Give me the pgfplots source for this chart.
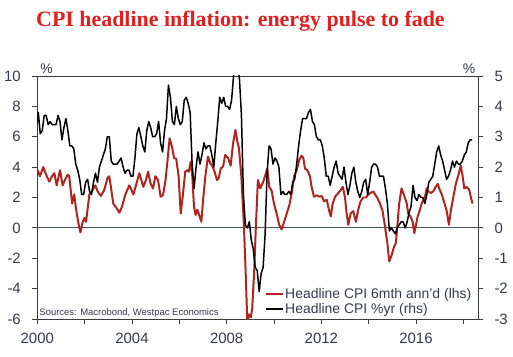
\documentclass[border=0pt]{standalone}
\usepackage{pgfplots}
\pgfplotsset{compat=1.18}
\usepackage{pgfplotstable}
\usepackage{fontspec}
\setmainfont{Liberation Sans}
\newfontfamily\titlefont{Liberation Serif}
\definecolor{cpired}{RGB}{176,36,30}
\definecolor{titlered}{RGB}{226,30,30}
\definecolor{axgray}{RGB}{60,60,60}
\definecolor{lblcol}{RGB}{52,58,78}
\definecolor{zerocol}{RGB}{70,84,96}

\pgfplotstableread{
x y
2000.02 3.8
2000.11 3.4
2000.25 4.0
2000.40 3.4
2000.51 3.05
2000.62 3.4
2000.72 3.6
2000.82 2.8
2000.96 3.8
2001.07 2.8
2001.18 3.2
2001.28 3.5
2001.35 3.4
2001.47 1.6
2001.56 2.2
2001.64 1.2
2001.75 0.2
2001.82 -0.3
2001.92 0.4
2001.99 0.65
2002.06 0.4
2002.20 2.2
2002.34 2.5
2002.45 2.8
2002.55 2.4
2002.69 2.1
2002.83 2.5
2002.97 3.3
2003.04 3.4
2003.11 2.7
2003.21 1.6
2003.35 1.3
2003.47 1.0
2003.58 1.4
2003.72 2.2
2003.89 2.8
2004.06 2.2
2004.17 2.8
2004.31 3.6
2004.48 2.7
2004.59 3.15
2004.68 3.7
2004.79 2.9
2004.89 2.6
2004.99 3.4
2005.10 3.15
2005.21 2.05
2005.31 2.15
2005.41 3.05
2005.49 4.25
2005.59 5.9
2005.69 5.35
2005.78 4.6
2005.87 4.55
2005.97 3.4
2006.06 0.95
2006.15 2.15
2006.25 3.7
2006.34 3.8
2006.40 3.7
2006.48 4.35
2006.55 3.4
2006.62 1.4
2006.69 0.85
2006.76 1.2
2006.86 0.75
2006.93 0.4
2007.00 1.75
2007.10 3.4
2007.21 4.7
2007.31 4.25
2007.39 4.1
2007.49 3.7
2007.59 3.15
2007.66 3.25
2007.75 3.9
2007.85 4.05
2007.94 4.8
2008.06 4.6
2008.17 4.1
2008.27 5.55
2008.37 6.45
2008.45 5.7
2008.52 5.25
2008.62 3.4
2008.72 0.5
2008.80 -2.75
2008.87 -6.1
2008.94 -5.7
2009.02 -5.9
2009.08 -5.3
2009.16 -3.0
2009.23 -0.1
2009.32 3.15
2009.42 2.6
2009.55 3.05
2009.72 3.9
2009.80 2.7
2009.90 2.45
2010.00 1.6
2010.11 0.95
2010.22 0.2
2010.32 -0.1
2010.42 0.35
2010.54 0.95
2010.65 1.5
2010.75 2.3
2010.85 3.4
2010.96 3.8
2011.07 4.5
2011.17 4.75
2011.24 4.6
2011.31 3.9
2011.41 3.8
2011.52 3.4
2011.59 2.7
2011.69 2.05
2011.80 2.15
2011.92 2.05
2012.02 2.1
2012.11 1.75
2012.23 1.85
2012.32 1.2
2012.40 0.75
2012.48 1.6
2012.58 2.05
2012.72 2.3
2012.82 2.5
2012.91 2.7
2013.00 2.0
2013.07 0.95
2013.14 0.2
2013.24 0.95
2013.35 1.1
2013.46 0.4
2013.56 1.2
2013.66 1.75
2013.77 2.0
2013.89 2.0
2013.98 2.2
2014.08 2.3
2014.20 2.4
2014.27 2.2
2014.36 2.0
2014.48 1.6
2014.59 1.1
2014.69 0.1
2014.79 -1.0
2014.87 -2.2
2014.97 -1.8
2015.07 -1.25
2015.15 -1.0
2015.21 0.1
2015.29 1.6
2015.39 2.6
2015.46 2.3
2015.53 2.0
2015.61 1.6
2015.67 0.95
2015.77 0.75
2015.86 0.4
2015.93 -0.35
2016.00 0.2
2016.07 0.75
2016.17 1.2
2016.24 1.6
2016.31 1.85
2016.38 2.05
2016.45 2.6
2016.52 2.4
2016.62 2.3
2016.73 2.4
2016.83 2.7
2016.92 2.9
2016.98 2.6
2017.09 2.2
2017.18 1.75
2017.30 1.1
2017.39 0.2
2017.48 1.2
2017.58 2.05
2017.69 2.95
2017.78 3.4
2017.89 4.1
2017.97 3.4
2018.04 2.6
2018.14 2.7
2018.25 2.5
2018.32 2.0
2018.39 1.6
}\sixmth

\pgfplotstableread{
yr m v
2000 1 2.7
2000 2 3.2
2000 3 3.8
2000 4 3.1
2000 5 3.2
2000 6 3.7
2000 7 3.7
2000 8 3.4
2000 9 3.5
2000 10 3.4
2000 11 3.4
2000 12 3.4
2001 1 3.7
2001 2 3.5
2001 3 2.9
2001 4 3.3
2001 5 3.6
2001 6 3.2
2001 7 2.7
2001 8 2.7
2001 9 2.6
2001 10 2.1
2001 11 1.9
2001 12 1.6
2002 1 1.1
2002 2 1.1
2002 3 1.5
2002 4 1.6
2002 5 1.2
2002 6 1.1
2002 7 1.5
2002 8 1.8
2002 9 1.5
2002 10 2.0
2002 11 2.2
2002 12 2.4
2003 1 2.6
2003 2 3.0
2003 3 3.0
2003 4 2.2
2003 5 2.1
2003 6 2.1
2003 7 2.1
2003 8 2.2
2003 9 2.3
2003 10 2.0
2003 11 1.8
2003 12 1.9
2004 1 1.9
2004 2 1.7
2004 3 1.7
2004 4 2.3
2004 5 3.1
2004 6 3.3
2004 7 3.0
2004 8 2.7
2004 9 2.5
2004 10 3.2
2004 11 3.5
2004 12 3.3
2005 1 3.0
2005 2 3.0
2005 3 3.1
2005 4 3.5
2005 5 2.8
2005 6 2.5
2005 7 3.2
2005 8 3.6
2005 9 4.7
2005 10 4.3
2005 11 3.5
2005 12 3.4
2006 1 4.0
2006 2 3.6
2006 3 3.4
2006 4 3.5
2006 5 4.2
2006 6 4.3
2006 7 4.1
2006 8 3.8
2006 9 2.1
2006 10 1.3
2006 11 2.0
2006 12 2.5
2007 1 2.1
2007 2 2.4
2007 3 2.8
2007 4 2.6
2007 5 2.7
2007 6 2.7
2007 7 2.4
2007 8 2.0
2007 9 2.8
2007 10 3.5
2007 11 4.3
2007 12 4.1
2008 1 4.3
2008 2 4.0
2008 3 4.0
2008 4 3.9
2008 5 4.2
2008 6 5.0
2008 7 5.6
2008 8 5.4
2008 9 4.9
2008 10 3.7
2008 11 1.1
2008 12 0.1
2009 1 0.0
2009 2 0.2
2009 3 -0.4
2009 4 -0.7
2009 5 -1.3
2009 6 -1.4
2009 7 -2.1
2009 8 -1.5
2009 9 -1.3
2009 10 -0.2
2009 11 1.8
2009 12 2.7
2010 1 2.6
2010 2 2.1
2010 3 2.3
2010 4 2.2
2010 5 2.0
2010 6 1.1
2010 7 1.2
2010 8 1.1
2010 9 1.1
2010 10 1.2
2010 11 1.1
2010 12 1.5
2011 1 1.6
2011 2 2.1
2011 3 2.7
2011 4 3.2
2011 5 3.6
2011 6 3.6
2011 7 3.6
2011 8 3.8
2011 9 3.9
2011 10 3.5
2011 11 3.4
2011 12 3.0
2012 1 2.9
2012 2 2.9
2012 3 2.7
2012 4 2.3
2012 5 1.7
2012 6 1.7
2012 7 1.4
2012 8 1.7
2012 9 2.0
2012 10 2.2
2012 11 1.8
2012 12 1.7
2013 1 1.6
2013 2 2.0
2013 3 1.5
2013 4 1.1
2013 5 1.4
2013 6 1.8
2013 7 2.0
2013 8 1.5
2013 9 1.2
2013 10 1.0
2013 11 1.2
2013 12 1.5
2014 1 1.6
2014 2 1.1
2014 3 1.5
2014 4 2.0
2014 5 2.1
2014 6 2.1
2014 7 2.0
2014 8 1.7
2014 9 1.7
2014 10 1.7
2014 11 1.3
2014 12 0.8
2015 1 -0.1
2015 2 0.0
2015 3 -0.1
2015 4 -0.2
2015 5 0.0
2015 6 0.1
2015 7 0.2
2015 8 0.2
2015 9 0.0
2015 10 0.2
2015 11 0.5
2015 12 0.7
2016 1 1.4
2016 2 1.0
2016 3 0.9
2016 4 1.1
2016 5 1.0
2016 6 1.0
2016 7 0.8
2016 8 1.1
2016 9 1.5
2016 10 1.6
2016 11 1.7
2016 12 2.1
2017 1 2.5
2017 2 2.7
2017 3 2.4
2017 4 2.2
2017 5 1.9
2017 6 1.6
2017 7 1.7
2017 8 1.9
2017 9 2.2
2017 10 2.0
2017 11 2.2
2017 12 2.1
2018 1 2.1
2018 2 2.2
2018 3 2.4
2018 4 2.5
2018 5 2.8
2018 6 2.9
2018 7 2.9
}\yoy

\pgfplotsset{
  common/.style={
    scale only axis, width=440.7bp, height=243bp,
    at={(0,0)}, anchor=south west,
    xmin=2000, xmax=2018.62,
    axis line style={draw=axgray, line width=0.8pt},
    tick align=outside,
    major tick length=5bp, minor tick length=5bp,
    tick style={axgray, line width=0.8pt},
    ticklabel style={font=\fontsize{15}{18}\selectfont, text=lblcol},
    /pgf/number format/assume math mode=true,
  }
}

\begin{document}
\begin{tikzpicture}
\useasboundingbox (-37.3bp,-38bp) rectangle (475.7bp,319bp);
\begin{axis}[common,
  ymin=-6, ymax=10, ytick={-6,-4,...,10},
  tick pos=left,
  xtick={2000,2004,2008,2012,2016},
  xticklabels={2000,2004,2008,2012,2016},
  minor xtick={2002,2006,2010,2014,2018},
  extra y ticks={0}, extra y tick labels={},
  extra y tick style={grid=major, major grid style={zerocol, line width=0.8pt}, major tick length=0pt},
  xticklabel style={yshift=-6bp},
  yticklabel style={xshift=-8bp},
]
\addplot[cpired, line width=2pt, line join=round] table[x=x, y=y] {\sixmth};
\end{axis}
\begin{axis}[common,
  axis x line=none, axis y line*=right,
  ymin=-3, ymax=5, ytick={-3,...,5},
  yticklabel style={xshift=8bp},
  legend style={draw=none, fill=none, at={(0.5167,0.012)}, anchor=south west,
    font=\fontsize{14}{16}\selectfont, text=lblcol, inner sep=0pt,
    row sep=1.5bp, nodes={inner sep=1bp}},
  legend cell align=left,
  legend image code/.code={\draw[#1] (0bp,0bp) -- (17bp,0bp);},
]
\addlegendimage{cpired, line width=2pt}
\addlegendentry{Headline CPI 6mth ann'd (lhs)}
\addplot[black, line width=1.5pt, line join=round] table[x expr=\thisrow{yr}+(\thisrow{m}-1)/12-0.125, y=v] {\yoy};
\addlegendentry{Headline CPI \%yr (rhs)}
\end{axis}
\node[anchor=base west, inner sep=0pt, font=\fontsize{9.5}{11}\selectfont, text=lblcol] at (2bp,4bp) {Sources: Macrobond, Westpac Economics};
\node[anchor=base west, inner sep=0pt, font=\titlefont\bfseries\fontsize{22}{26}\selectfont, text=titlered] at (-1.3bp,292.3bp) {CPI headline inflation: energy pulse to fade};
\node[anchor=base, inner sep=0pt, font=\fontsize{14}{16}\selectfont, text=lblcol] at (9.2bp,245.5bp) {\%};
\node[anchor=base, inner sep=0pt, font=\fontsize{14}{16}\selectfont, text=lblcol] at (431.7bp,245.5bp) {\%};
\end{tikzpicture}
\end{document}
